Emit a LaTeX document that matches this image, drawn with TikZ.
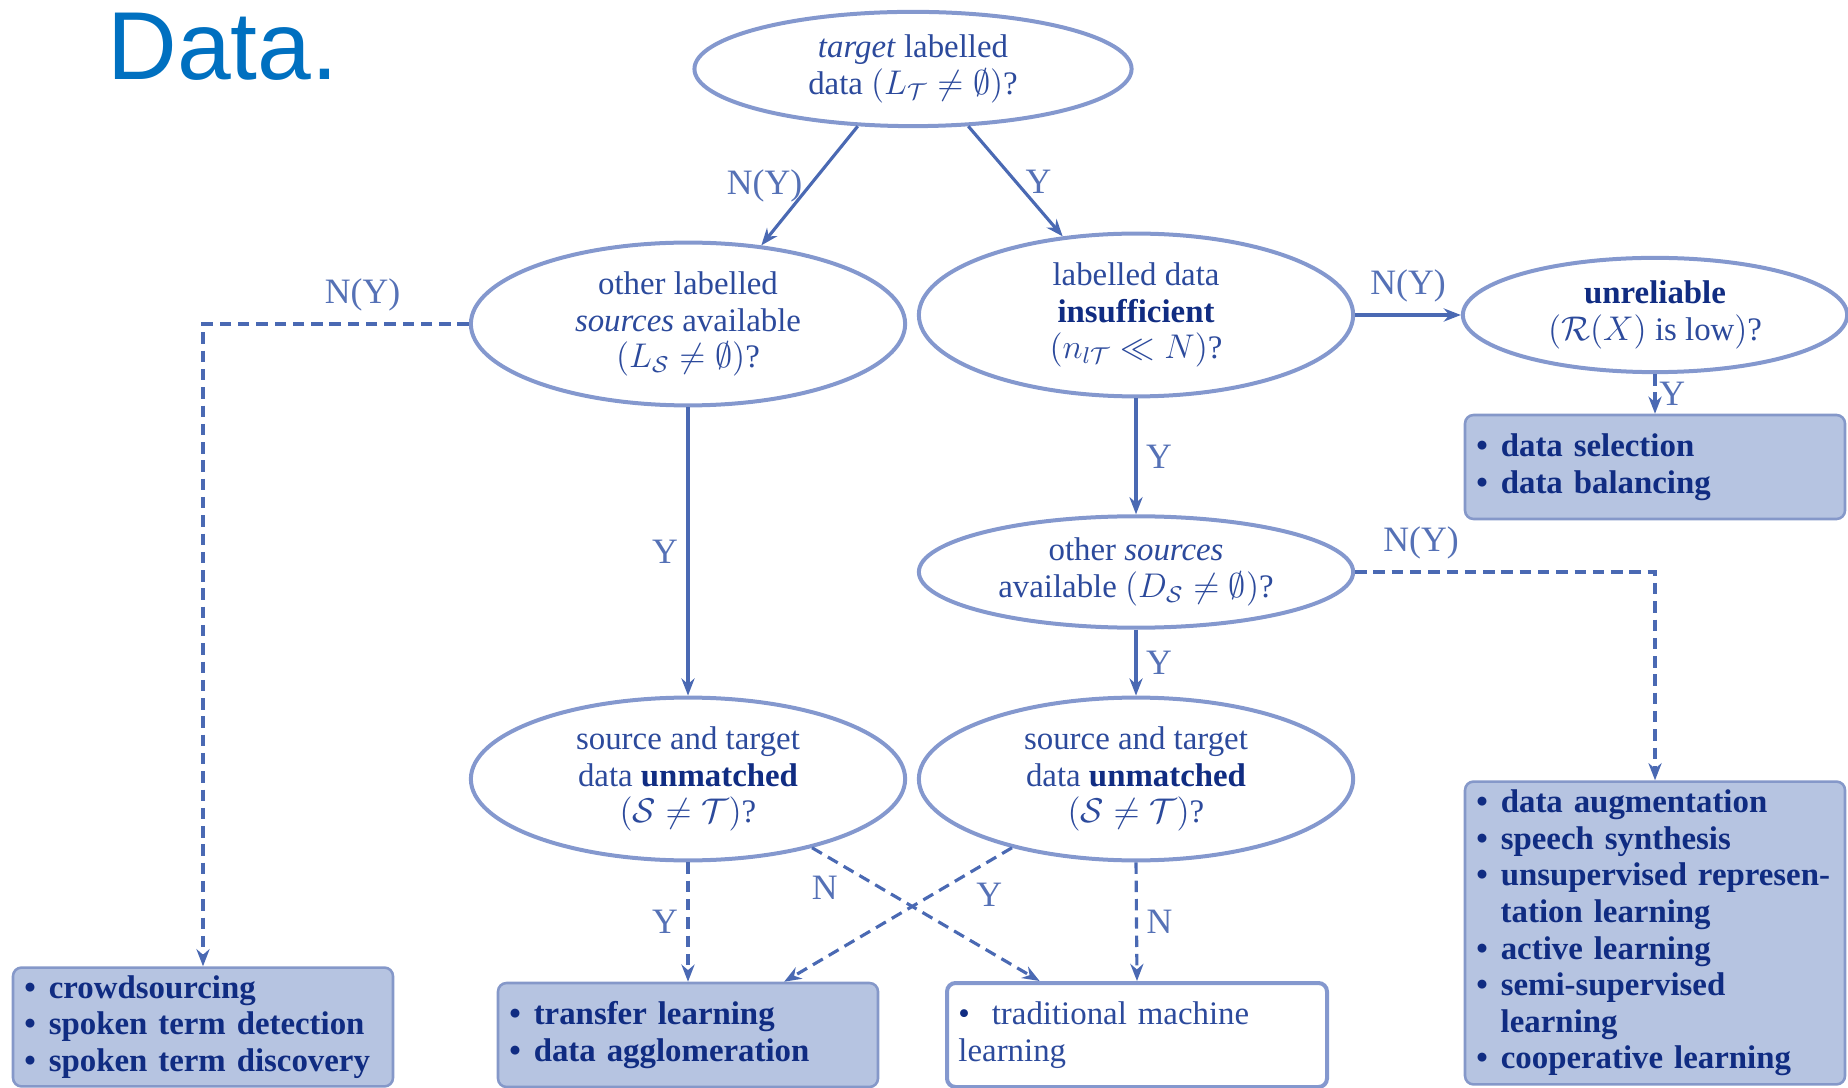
\documentclass[tikz,border=0pt]{standalone}
\usepackage{amsmath,amssymb}
\usepackage{fontspec}
\setmainfont{Liberation Serif}
\newfontfamily\titlefont{Liberation Sans}
\usetikzlibrary{positioning,arrows.meta,shapes.geometric}

\definecolor{titleblue}{HTML}{0070C0}
\definecolor{ringblue}{HTML}{8498CE}
\definecolor{lineblue}{HTML}{4A69B3}
\definecolor{textblue}{HTML}{2C4A9C}
\definecolor{navy}{HTML}{102C82}
\definecolor{labblue}{HTML}{5571B6}
\definecolor{boxfill}{HTML}{B6C4E1}
\definecolor{boxline}{HTML}{8598C9}

\newcommand{\kw}[1]{\textcolor{navy}{\textbf{#1}}}
\newcommand{\itm}{\textbullet\hspace{4.5pt}}
\newcommand{\itmind}{\hspace{8.5pt}}

\begin{document}
\begin{tikzpicture}[
      x=0.35pt, y=-0.35pt,
      q/.style   = {ellipse, draw=ringblue, line width=1.4pt, inner sep=0pt, align=center,
                    text=textblue, font=\fontsize{11.5}{12.8}\selectfont},
      res/.style = {rectangle, rounded corners=3pt, draw=boxline, fill=boxfill, line width=0.9pt,
                    text width=125pt, inner xsep=4pt, inner ysep=1pt, minimum height=36.4pt,
                    align=left, text=navy, font=\fontsize{11.5}{12.8}\selectfont\bfseries},
      arr/.style  = {draw=lineblue, line width=1.1pt, -{Stealth[length=6pt,width=4.6pt]}},
      darr/.style = {arr, dash pattern=on 4pt off 2.4pt},
      el/.style   = {font=\fontsize{12.5}{14}\selectfont, text=labblue, inner sep=1pt},
    ]
    \useasboundingbox (0,0) rectangle (1848,1088);

    \node[anchor=base west, inner sep=0pt, text=titleblue, font=\titlefont\fontsize{33.8}{38}\selectfont]
      (ttl) at (107, 80) {Data.};

    % questions
    \node[q, minimum width=153pt, minimum height=40pt] (q1) at (913, 69)
      {\textit{target} labelled\\data $(L_{\mathcal{T}}\neq\emptyset)$?};
    \node[q, minimum width=152pt, minimum height=57pt] (q2) at (688, 324)
      {other labelled\\\textit{sources} available\\$(L_{\mathcal{S}}\neq\emptyset)$?};
    \node[q, minimum width=152pt, minimum height=57pt] (q3) at (1136, 315)
      {labelled data\\\kw{insufficient}\\$(n_{l\mathcal{T}}\ll N)$?};
    \node[q, minimum width=134.5pt, minimum height=40pt] (q4) at (1655, 315)
      {\kw{unreliable}\\$(\mathcal{R}(X)$ is low$)$?};
    \node[q, minimum width=152pt, minimum height=39pt] (q5) at (1136, 572)
      {other \textit{sources}\\available $(D_{\mathcal{S}}\neq\emptyset)$?};
    \node[q, minimum width=152pt, minimum height=57pt] (q6) at (688, 779)
      {source and target\\data \kw{unmatched}\\$(\mathcal{S}\neq\mathcal{T})$?};
    \node[q, minimum width=152pt, minimum height=57pt] (q7) at (1136, 779)
      {source and target\\data \kw{unmatched}\\$(\mathcal{S}\neq\mathcal{T})$?};

    % outcomes
    \node[res] (b1) at (1655, 467) {\itm data selection\\\itm data balancing};
    \node[res, minimum height=106pt] (b2) at (1655, 933)
      {\itm data augmentation\\\itm speech synthesis\\\itm unsupervised represen-\\\itmind tation learning\\
       \itm active learning\\\itm semi-supervised\\\itmind learning\\\itm cooperative learning};
    \node[res, minimum height=41.6pt] (b3) at (203, 1027)
      {\itm crowdsourcing\\\itm spoken term detection\\\itm spoken term discovery};
    \node[res] (b4) at (688, 1035) {\itm transfer learning\\\itm data agglomeration};
    \node[res, fill=white, draw=ringblue, line width=1.4pt, text=textblue, font=\fontsize{11.5}{12.8}\selectfont]
      (b5) at (1137, 1035) {\textcolor{navy}{\textbullet}\ \ traditional machine\\learning};

    % connectors
    \draw[arr] (q1.226) -- node[el, left=1pt] {N(Y)} (q2.47);
    \draw[arr] (q1.314) -- node[el, right=2pt] {Y} (q3.133);
    \draw[arr] (q3.east) -- node[el, above=3pt] {N(Y)} (q4.west);
    \draw[darr] (q4.south) -- node[el, right=0pt] {Y} (b1.north);
    \draw[arr] (q3.south) -- node[el, right=2pt] {Y} (q5.north);
    \draw[darr] (q5.east) -| node[el, pos=0.11, above=3pt] {N(Y)} (b2.north);
    \draw[arr] (q5.south) -- node[el, right=2pt] {Y} (q7.north);
    \draw[arr] (q2.south) -- node[el, left=2pt] {Y} (q6.north);
    \draw[darr] (q2.west) -| node[el, pos=0.2, above=3pt] {N(Y)} (b3.north);
    \draw[darr] (q6.south) -- node[el, left=2pt] {Y} (b4.north);
    \draw[darr] (q6.-29) -- node[el, pos=0.15, below left=2pt] {N} (b5.151);
    \draw[darr] (q7.209) -- node[el, pos=0.1, below=6pt] {Y} (b4.29);
    \draw[darr] (q7.south) -- node[el, right=2pt] {N} (b5.north);
  \end{tikzpicture}
\end{document}
